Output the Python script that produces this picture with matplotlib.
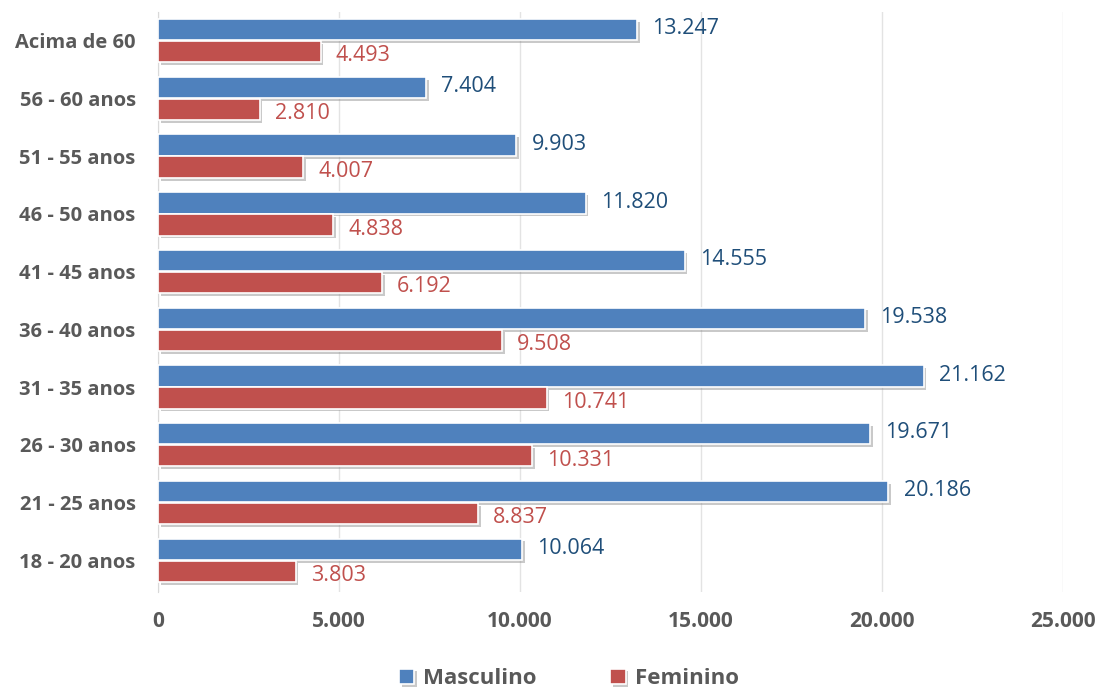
import matplotlib.pyplot as plt
import matplotlib.patheffects as pe
import numpy as np

categorias = ["Acima de 60", "56 - 60 anos", "51 - 55 anos", "46 - 50 anos", "41 - 45 anos",
              "36 - 40 anos", "31 - 35 anos", "26 - 30 anos", "21 - 25 anos", "18 - 20 anos"]
masculino = [13247, 7404, 9903, 11820, 14555, 19538, 21162, 19671, 20186, 10064]
feminino = [4493, 2810, 4007, 4838, 6192, 9508, 10741, 10331, 8837, 3803]
xticks = [0, 5000, 10000, 15000, 20000, 25000]

azul = "#4F81BD"
vermelho = "#C0504D"
cinza = "#595959"

plt.rcParams['font.family'] = ['Open Sans', 'DejaVu Sans']

fig = plt.figure(figsize=(11, 6.94), dpi=100)
ax = fig.add_axes([0.1436, 0.147, 0.8224, 0.836])

y = np.arange(len(categorias))[::-1].astype(float)
h = 0.37
sombra = [pe.SimplePatchShadow(offset=(2, -2), shadow_rgbFace="#888888", alpha=0.45), pe.Normal()]

b1 = ax.barh(y + h / 2 + 0.005, masculino, height=h, color=azul, edgecolor="white",
             linewidth=1.2, label="Masculino", zorder=3)
b2 = ax.barh(y - h / 2 - 0.005, feminino, height=h, color=vermelho, edgecolor="white",
             linewidth=1.2, label="Feminino", zorder=3)
for b in list(b1) + list(b2):
    b.set_path_effects(sombra)

fmt = lambda v: f"{v:,}".replace(",", ".")
for yi, v in zip(y, masculino):
    ax.text(v + 420, yi + h / 2 + 0.02, fmt(v), color="#1F4E79", fontsize=15.5,
            va="center", ha="left")
for yi, v in zip(y, feminino):
    ax.text(v + 420, yi - h / 2 - 0.08, fmt(v), color=vermelho, fontsize=15.5,
            va="center", ha="left")

ax.set_xlim(0, 25000)
ax.set_ylim(-0.55, len(categorias) - 0.5)
ax.set_xticks(xticks)
ax.set_xticklabels([fmt(t) for t in xticks], fontsize=15, fontweight="bold", color=cinza)
ax.set_yticks(y)
ax.set_yticklabels(categorias, fontsize=14.5, fontweight="bold", color=cinza)
ax.tick_params(axis="both", length=0)
ax.tick_params(axis="x", pad=14)
ax.tick_params(axis="y", pad=16)
ax.grid(axis="x", color="#E3E3E3", linewidth=1, zorder=0)
for s in ["top", "right", "bottom"]:
    ax.spines[s].set_visible(False)
ax.spines["left"].set_color("#D9D9D9")

leg = fig.legend(loc="lower center", bbox_to_anchor=(0.517, -0.022), ncol=2, frameon=False,
                 prop={"size": 16, "weight": "bold"}, handlelength=0.7, handleheight=0.7,
                 columnspacing=3.3, handletextpad=0.4)
for t in leg.get_texts():
    t.set_color(cinza)

fig.savefig("out.png", dpi=100)
